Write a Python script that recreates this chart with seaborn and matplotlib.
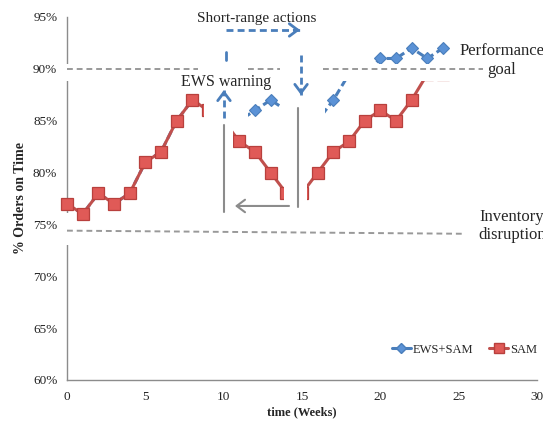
import pandas as pd
import matplotlib
matplotlib.use("Agg")
import matplotlib.pyplot as plt
from matplotlib.lines import Line2D
from matplotlib.patches import Rectangle
import seaborn as sns

# values
weeks = list(range(25))
sam = [77, 76, 78, 77, 78, 81, 82, 85, 87, 86, 85, 83, 82, 80, 78, 78, 80, 82, 83, 85, 86, 85, 87, 89.5, 89.5]
ews_sam = [77, 76, 78, 77, 78, 81, 82, 85, 87, 86, 85, 85, 86, 87, 86, 85, 85, 87, 89.5, 89.5, 91, 91, 92, 91, 92]
x_ticks = [0, 5, 10, 15, 20, 25, 30]
y_ticks = [60, 65, 70, 75, 80, 85, 90, 95]
goal = 90
disruption = [74.4, 74.1]

blue = '#4A7EBB'
red = '#C0504D'
grey = '#8c8c8c'

sns.set_style("white")
plt.rcParams['font.family'] = ['Liberation Serif', 'DejaVu Serif']

df = pd.DataFrame({'week': weeks, 'EWS+SAM': ews_sam, 'SAM': sam})

fig = plt.figure(figsize=(5.43, 4.21), dpi=100)
ax = fig.add_axes([67 / 543, 41 / 421, 470 / 543, 363 / 421])

sns.lineplot(data=df, x='week', y='EWS+SAM', ax=ax, color=blue, lw=2.2,
             linestyle=(0, (2.5, 1.3)), marker='D', markersize=6.5,
             markerfacecolor='#5B92D6', markeredgecolor='#4A7EBB', markeredgewidth=0.8,
             clip_on=False, zorder=2, legend=False)
sns.lineplot(data=df, x='week', y='SAM', ax=ax, color=red, lw=2.2,
             marker='s', markersize=8, markerfacecolor='#E05A57', markeredgecolor='#B8403D',
             markeredgewidth=0.9, clip_on=False, zorder=3, legend=False)


# white boxes of the original slide that hide parts of the curves
def cover(x0, x1, y0, y1):
    ax.add_patch(Rectangle((x0, y0), x1 - x0, y1 - y0, facecolor='white',
                           edgecolor='none', zorder=4, clip_on=False))


cover(8.75, 10.6, 76.5, 91.2)
cover(10.6, 11.55, 84.1, 91.0)
cover(13.6, 16.47, 83.6, 91.0)
cover(13.85, 15.32, 76.5, 85.0)
cover(-0.5, 26.6, 88.83, 90.47)
cover(-0.5, 0.4, 73.0, 76.1)

# goal and disruption lines
for a, b in [(0, 8.35), (11.55, 13.6), (16.35, 26.55)]:
    ax.plot([a, b], [goal, goal], color='#999999', lw=1.4, dashes=[3, 2], zorder=6, clip_on=False)
ax.plot([0, 25.3], disruption, color='#999999', lw=1.4, dashes=[3, 2], zorder=6, clip_on=False)

# grey markers of warning / action time
ax.plot([10.02, 10.02], [84.6, 76.2], color=grey, lw=1.5, zorder=6)
ax.plot([14.74, 14.74], [86.2, 76.7], color=grey, lw=1.5, zorder=6)
ax.annotate('', xy=(10.72, 76.78), xytext=(14.17, 76.78),
            arrowprops=dict(arrowstyle='->,head_length=0.4,head_width=0.3', color=grey, lw=1.5,
                            shrinkA=0, shrinkB=0, mutation_scale=15), zorder=6)


# blue dashed arrows
def blue_arrow(x0, y0, x1, y1, back_x, back_y):
    ax.plot([x0, x1], [y0, y1], color=blue, lw=2, dashes=[2.5, 1.5], zorder=6, clip_on=False)
    ax.annotate('', xy=(x1, y1), xytext=(back_x, back_y),
                arrowprops=dict(arrowstyle='->,head_length=0.4,head_width=0.3', color=blue, lw=2,
                                shrinkA=0, shrinkB=0, mutation_scale=15), zorder=6)


blue_arrow(10.02, 85.26, 10.02, 87.96, 10.02, 87.5)
blue_arrow(10.15, 93.75, 14.87, 93.75, 14.5, 93.75)
blue_arrow(14.94, 91.34, 14.94, 87.48, 14.94, 88.0)
ax.plot([10.15, 10.15], [91.6, 90.85], color=blue, lw=2, zorder=6)

# text labels
ax.text(12.13, 94.52, 'Short-range actions', ha='center', va='baseline', fontsize=11, zorder=7, clip_on=False)
ax.text(10.15, 88.35, 'EWS warning', ha='center', va='baseline', fontsize=11.5, zorder=7)
ax.text(27.77, 91.34, 'Performance', ha='center', va='baseline', fontsize=12, zorder=7, clip_on=False)
ax.text(27.77, 89.5, 'goal', ha='center', va='baseline', fontsize=12, zorder=7, clip_on=False)
ax.text(28.4, 75.33, 'Inventory', ha='center', va='baseline', fontsize=12, zorder=7, clip_on=False)
ax.text(28.4, 73.6, 'disruption', ha='center', va='baseline', fontsize=12, zorder=7, clip_on=False)

ax.set_xlim(0, 30)
ax.set_ylim(60, 95)
ax.set_xticks(x_ticks)
ax.set_yticks(y_ticks)
ax.set_yticklabels([f'{v}%' for v in y_ticks])
ax.tick_params(axis='both', length=0, labelsize=9.5, colors='#222222')
ax.tick_params(axis='y', pad=7)
ax.tick_params(axis='x', pad=8)
ax.set_xlabel('time (Weeks)', fontsize=9, fontweight='bold', labelpad=2)
ax.set_ylabel('% Orders on Time', fontsize=10, fontweight='bold', labelpad=4)

for side in ['top', 'right']:
    ax.spines[side].set_visible(False)
for side in ['left', 'bottom']:
    ax.spines[side].set_color(grey)
    ax.spines[side].set_linewidth(1)

handles = [
    Line2D([], [], color=blue, lw=2.2, marker='D', markersize=5, markerfacecolor='#5B92D6', markeredgecolor=blue),
    Line2D([], [], color=red, lw=2.2, marker='s', markersize=6.5, markerfacecolor='#E05A57', markeredgecolor='#B8403D'),
]
ax.legend(handles, ['EWS+SAM', 'SAM'], loc='center right', bbox_to_anchor=(1.0, 0.083), ncol=2,
          frameon=False, fontsize=9, handlelength=1.5, handletextpad=0.15, columnspacing=1.3,
          borderaxespad=0, borderpad=0)

fig.savefig('out.png', dpi=100)
